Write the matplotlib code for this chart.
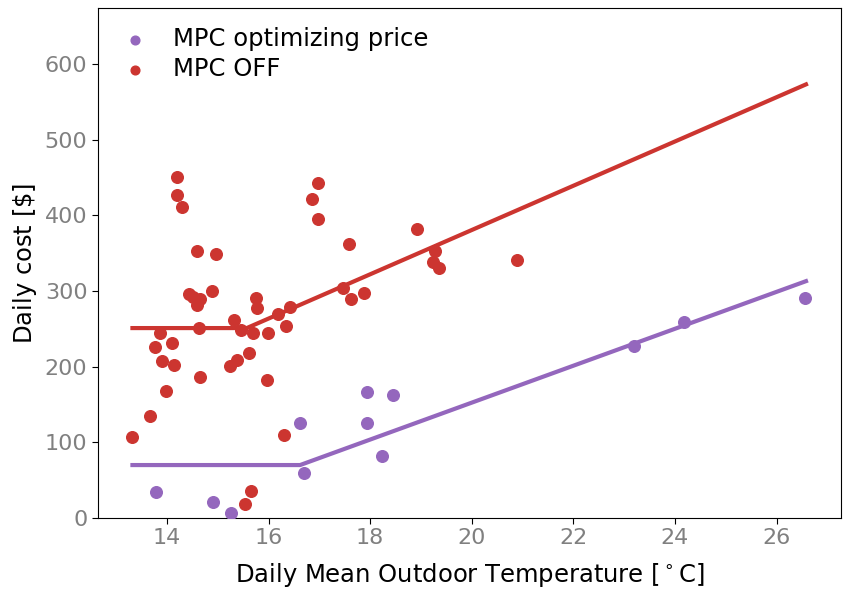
import matplotlib
matplotlib.use("Agg")
import matplotlib.pyplot as plt
import numpy as np

# daily cost vs mean outdoor temperature, two controller modes
temp_off = [13.32, 13.67, 13.76, 13.86, 13.90, 13.99, 14.09, 14.14, 14.19, 14.19,
            14.29, 14.43, 14.52, 14.60, 14.60, 14.63, 14.65, 14.65, 14.88, 14.96,
            15.24, 15.32, 15.37, 15.46, 15.54, 15.62, 15.65, 15.69, 15.75, 15.77,
            15.96, 15.99, 16.19, 16.30, 16.34, 16.42, 16.85, 16.98, 16.98, 17.47,
            17.59, 17.62, 17.88, 18.92, 19.23, 19.27, 19.36, 20.90]
cost_off = [107, 135, 226, 245, 207, 168, 231, 202, 450, 427,
            411, 296, 292, 353, 281, 251, 289, 186, 300, 349,
            201, 262, 209, 249, 19, 218, 36, 244, 291, 278,
            183, 245, 270, 110, 254, 279, 421, 443, 395, 304,
            362, 290, 297, 382, 338, 353, 331, 341]

temp_mpc = [13.78, 14.91, 15.27, 16.62, 16.70, 17.93, 17.93, 18.23, 18.44,
            23.20, 24.17, 26.56]
cost_mpc = [34, 21, 7, 126, 60, 166, 125, 82, 163, 227, 259, 291]

# piecewise linear fits (flat, then rising)
fit_x_off = [13.32, 15.57, 26.58]
fit_y_off = [251, 251, 573]
fit_x_mpc = [13.32, 16.62, 26.58]
fit_y_mpc = [70, 70, 313]

red = '#cc3530'
purple = '#9467bd'

fig = plt.figure(figsize=(8.44, 5.89), dpi=100)
ax = fig.add_axes([0.116, 0.1205, 0.8805, 0.866])

ax.scatter(temp_mpc, cost_mpc, s=70, color=purple, label='MPC optimizing price', zorder=3)
ax.scatter(temp_off, cost_off, s=70, color=red, label='MPC OFF', zorder=3)
ax.plot(fit_x_mpc, fit_y_mpc, color=purple, lw=3, zorder=2)
ax.plot(fit_x_off, fit_y_off, color=red, lw=3, zorder=2)

ax.set_xlim(12.64, 27.27)
ax.set_ylim(0, 674)
ax.set_xticks(np.arange(14, 27, 2))
ax.set_yticks(np.arange(0, 601, 100))
ax.tick_params(labelsize=16, labelcolor='gray', length=4)
ax.set_xlabel('Daily Mean Outdoor Temperature [$^\\circ$C]', fontsize=17.5, labelpad=9)
ax.set_ylabel('Daily cost [$\\$$]', fontsize=17.5)

ax.legend(loc='upper left', frameon=False, fontsize=17.5, handlelength=1.5,
          labelspacing=0.27, borderaxespad=0.38, markerscale=0.75)

plt.savefig('out.png', dpi=100)
